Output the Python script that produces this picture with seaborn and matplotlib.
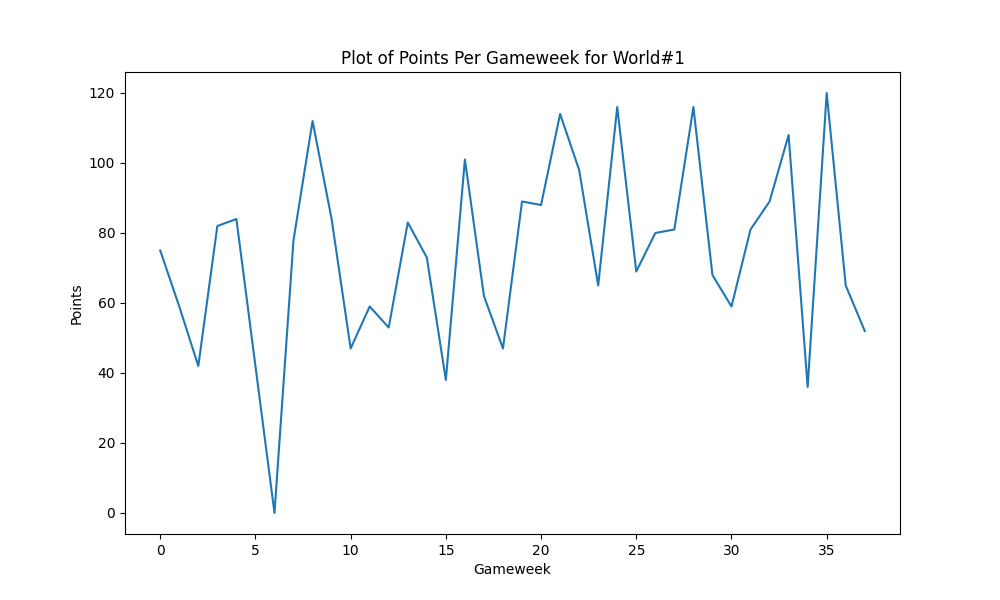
import matplotlib
matplotlib.use("Agg")
import matplotlib.pyplot as plt
import seaborn as sns
import pandas as pd

# points per gameweek
gameweeks = list(range(38))
points = [75, 59, 42, 82, 84, 42, 0, 78, 112, 84,
          47, 59, 53, 83, 73, 38, 101, 62, 47, 89,
          88, 114, 98, 65, 116, 69, 80, 81, 116, 68,
          59, 81, 89, 108, 36, 120, 65, 52]

df = pd.DataFrame({"Gameweek": gameweeks, "Points": points})

plt.figure(figsize=(10, 6))
sns.lineplot(data=df, x="Gameweek", y="Points")
plt.title("Plot of Points Per Gameweek for World#1")
plt.xlabel("Gameweek")
plt.ylabel("Points")
plt.savefig("out.png", dpi=100)
